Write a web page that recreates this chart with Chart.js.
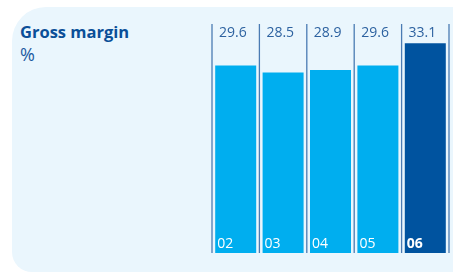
<!DOCTYPE html>
<html>
<head>
<meta charset="utf-8">
<script src="https://cdn.jsdelivr.net/npm/chart.js@4.4.0/dist/chart.umd.min.js"></script>
<style>
  html, body { margin: 0; padding: 0; background: #ffffff; }
  #wrap { position: relative; width: 453px; height: 273px; overflow: hidden; background: #ffffff; }
  #panel { position: absolute; left: 12px; top: 7px; width: 470px; height: 265px;
           background: #eaf6fd; border-radius: 34px 24px 0 20px; }
  #title { position: absolute; left: 20px; top: 22px; font-family: "Open Sans", sans-serif;
           font-weight: 700; font-size: 16.5px; color: #0b4f98; line-height: 20px; }
  #unit { position: absolute; left: 20px; top: 44px; font-family: "Open Sans", sans-serif;
          font-weight: 400; font-size: 18px; color: #1b5aa0; line-height: 20px; }
  canvas { position: absolute; left: 0; top: 0; }
</style>
</head>
<body>
<div id="wrap">
  <div id="panel"></div>
  <div id="title">Gross margin</div>
  <div id="unit">%</div>
  <canvas id="c" width="453" height="273"></canvas>
</div>
<script>
const categories = ["02", "03", "04", "05", "06"];
const grossMargin = [29.6, 28.5, 28.9, 29.6, 33.1];
const valueLabels = ["29.6", "28.5", "28.9", "29.6", "33.1"];
const barColors = ["#00aeef", "#00aeef", "#00aeef", "#00aeef", "#00539f"];
const highlightIndex = 4;

const decorPlugin = {
  id: "decor",
  beforeDatasetsDraw(chart) {
    const { ctx, chartArea, scales } = chart;
    const x = scales.x;
    const n = categories.length;
    const half = (x.getPixelForValue(1) - x.getPixelForValue(0)) / 2;
    ctx.save();
    ctx.strokeStyle = "#4a7bb3";
    ctx.lineWidth = 1.3;
    for (let i = 0; i <= n; i++) {
      const px = (i < n ? x.getPixelForValue(i) - half : x.getPixelForValue(n - 1) + half);
      ctx.beginPath();
      ctx.moveTo(px, chartArea.top - 1);
      ctx.lineTo(px, chartArea.bottom);
      ctx.stroke();
    }
    ctx.restore();
  },
  afterDatasetsDraw(chart) {
    const { ctx, chartArea, scales } = chart;
    const x = scales.x;
    const half = (x.getPixelForValue(1) - x.getPixelForValue(0)) / 2;
    const meta = chart.getDatasetMeta(0);
    ctx.save();
    ctx.textBaseline = "middle";
    ctx.textAlign = "left";
    for (let i = 0; i < categories.length; i++) {
      const left = x.getPixelForValue(i) - half;
      ctx.font = '400 14px "Open Sans", sans-serif';
      ctx.fillStyle = "#2d62a0";
      ctx.fillText(valueLabels[i], left + 7, chartArea.top + 8);
      const bar = meta.data[i];
      ctx.font = (i === highlightIndex ? '700 ' : '400 ') + '14px "Open Sans", sans-serif';
      ctx.fillStyle = "#ffffff";
      ctx.fillText(categories[i], bar.x - bar.width / 2 + 2, chartArea.bottom - 9);
    }
    ctx.restore();
  }
};

new Chart(document.getElementById("c"), {
  type: "bar",
  data: {
    labels: categories,
    datasets: [{
      data: grossMargin,
      backgroundColor: barColors,
      borderWidth: 0,
      barPercentage: 0.865,
      categoryPercentage: 1.0
    }]
  },
  options: {
    responsive: false,
    animation: false,
    devicePixelRatio: 1,
    layout: { padding: { left: 212, right: 4, top: 25, bottom: 20 } },
    plugins: { legend: { display: false }, tooltip: { enabled: false }, title: { display: false } },
    scales: {
      x: { display: false },
      y: { display: false, min: 0, max: 36 }
    }
  },
  plugins: [decorPlugin]
});
</script>
</body>
</html>
